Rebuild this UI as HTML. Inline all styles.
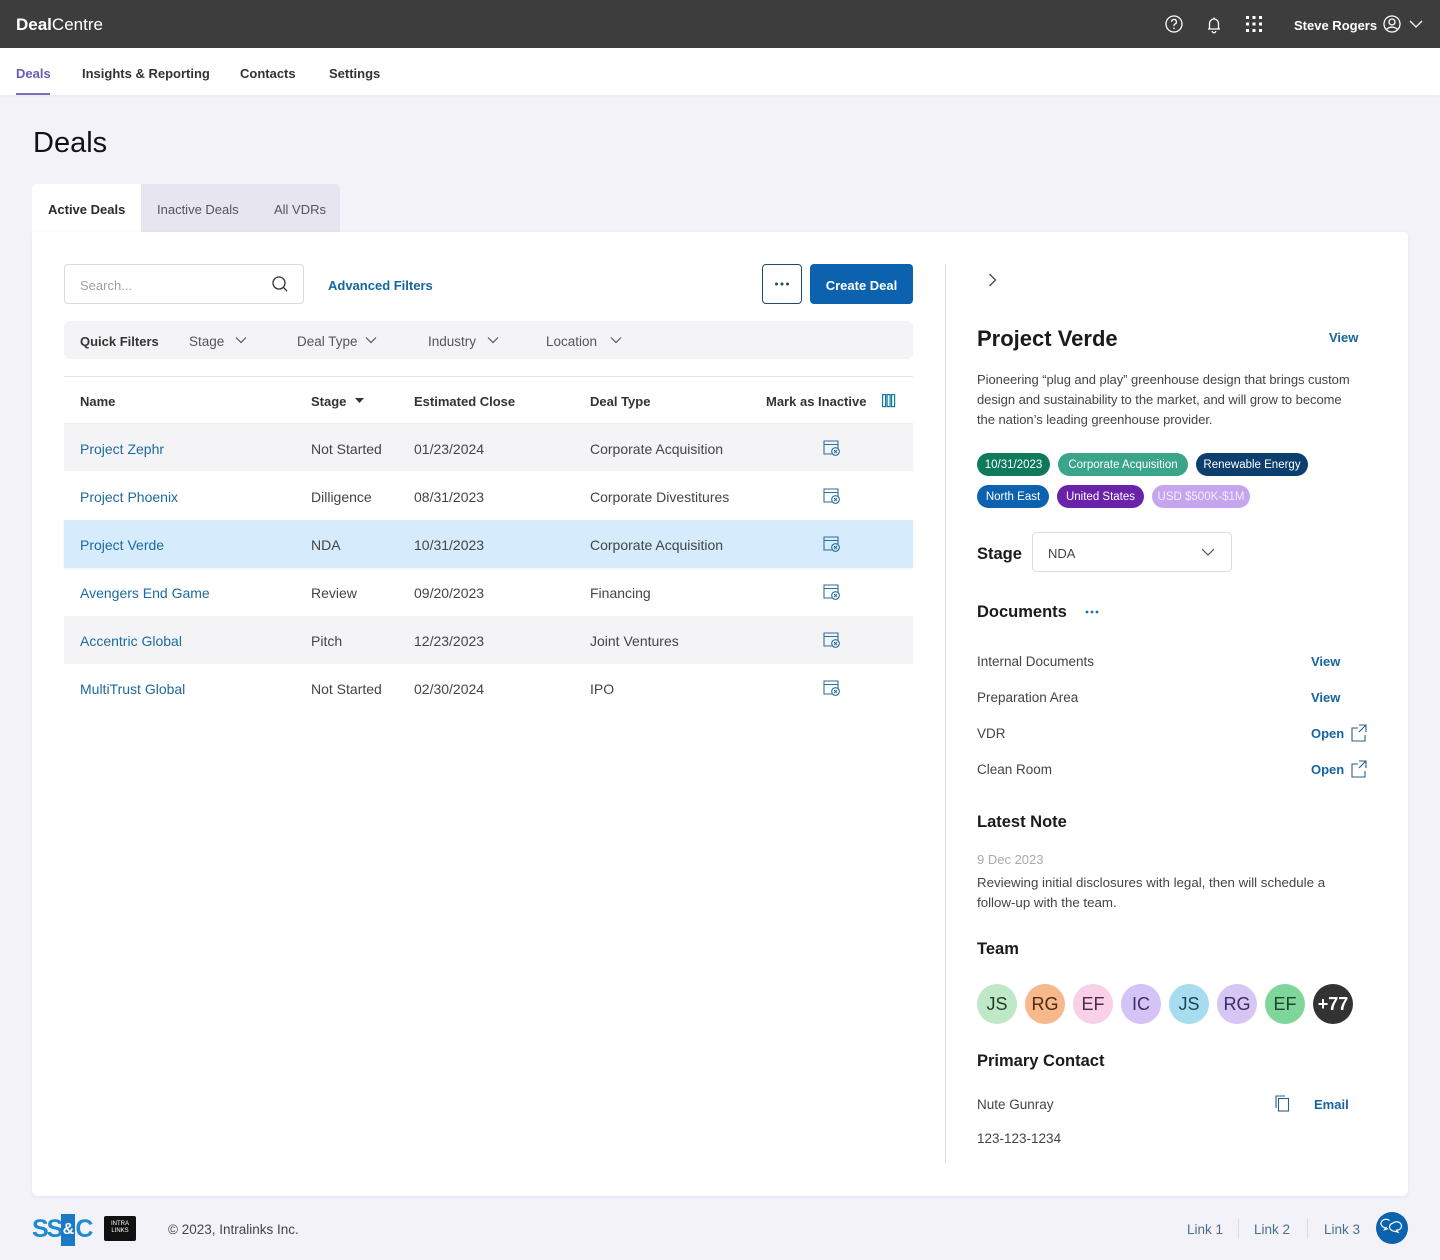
<!DOCTYPE html>
<html><head><meta charset="utf-8">
<style>
*{box-sizing:border-box;margin:0;padding:0}
body{width:1440px;height:1260px;background:#f3f2f9;position:relative;overflow:hidden;font-family:"Liberation Sans",sans-serif;color:#444}
.a{position:absolute}
.t{position:absolute;white-space:nowrap;transform:translateY(1px)}
.r{transform:none}
.hd{font-weight:bold;color:#333;font-size:13px;line-height:20px}
.cell{font-size:14px;line-height:20px;color:#444}
.nm{color:#1d6aa0}
.lnk{font-weight:bold;color:#15659e;font-size:13px;line-height:20px}
.h2{font-weight:bold;color:#1a1a1a;font-size:16.5px;line-height:22px}
.tag{position:absolute;height:23px;border-radius:12px;color:#fff;font-size:11.5px;line-height:25px;text-align:center;white-space:nowrap}
.av{position:absolute;top:984px;width:40px;height:40px;border-radius:50%;text-align:center;line-height:40px;font-size:18px}
</style></head><body>

<!-- top bar -->
<div class="a" style="left:0;top:0;width:1440px;height:48px;background:#3d3d3d"></div>
<div class="t" style="left:16px;top:14px;font-size:17px;line-height:20px;color:#fff"><b>Deal</b>Centre</div>
<div class="t" style="left:1294px;top:15px;font-size:13px;line-height:20px;color:#fff;font-weight:bold">Steve Rogers</div>

<!-- nav -->
<div class="a" style="left:0;top:48px;width:1440px;height:47px;background:#fff;box-shadow:0 1px 3px rgba(0,0,0,0.05)"></div>
<div class="t" style="left:16px;top:63px;font-size:13px;line-height:20px;font-weight:bold;color:#6a5db4">Deals</div>
<div class="a" style="left:16px;top:93px;width:34px;height:2px;background:#7b6fc2"></div>
<div class="t" style="left:82px;top:63px;font-size:13px;line-height:20px;font-weight:bold;color:#333">Insights &amp; Reporting</div>
<div class="t" style="left:240px;top:63px;font-size:13px;line-height:20px;font-weight:bold;color:#333">Contacts</div>
<div class="t" style="left:329px;top:63px;font-size:13px;line-height:20px;font-weight:bold;color:#333">Settings</div>

<!-- page title -->
<div class="t" style="left:33px;top:124px;font-size:29px;line-height:36px;color:#111">Deals</div>

<!-- tabs -->
<div class="a" style="left:141px;top:184px;width:199px;height:48px;background:#e7e5ef;border-top-right-radius:4px"></div>
<div class="a" style="left:32px;top:184px;width:109px;height:48px;background:#fff;border-top-left-radius:4px"></div>
<div class="t" style="left:48px;top:199px;font-size:13px;line-height:20px;font-weight:bold;color:#2a2a2a">Active Deals</div>
<div class="t" style="left:157px;top:199px;font-size:13px;line-height:20px;color:#555">Inactive Deals</div>
<div class="t" style="left:274px;top:199px;font-size:13px;line-height:20px;color:#555">All VDRs</div>

<!-- card -->
<div class="a" style="left:32px;top:232px;width:1376px;height:964px;background:#fff;border-radius:0 4px 6px 6px;box-shadow:0 1px 4px rgba(60,50,110,0.07)"></div>

<!-- search -->
<div class="a" style="left:64px;top:264px;width:240px;height:40px;border:1px solid #d9d9de;border-radius:4px;background:#fff"></div>
<div class="t" style="left:80px;top:275px;font-size:13px;line-height:20px;color:#a0a0a6">Search...</div>
<div class="t lnk" style="left:328px;top:275px">Advanced Filters</div>
<div class="a" style="left:762px;top:264px;width:40px;height:40px;border:1px solid #1e4d63;border-radius:4px"></div>
<div class="a" style="left:810px;top:264px;width:103px;height:40px;background:#0c62ae;border-radius:4px"></div>
<div class="t" style="left:810px;top:275px;width:103px;text-align:center;font-size:13px;line-height:20px;font-weight:bold;color:#fff">Create Deal</div>

<!-- quick filters -->
<div class="a" style="left:64px;top:321px;width:849px;height:38px;background:#f4f4f6;border-radius:6px"></div>
<div class="t" style="left:80px;top:331px;font-size:13px;line-height:20px;font-weight:bold;color:#333">Quick Filters</div>
<div class="t cell" style="left:189px;top:331px;font-size:13.5px;color:#555">Stage</div>
<div class="t cell" style="left:297px;top:331px;font-size:13.5px;color:#555">Deal Type</div>
<div class="t cell" style="left:428px;top:331px;font-size:13.5px;color:#555">Industry</div>
<div class="t cell" style="left:546px;top:331px;font-size:13.5px;color:#555">Location</div>

<div class="a" style="left:64px;top:376px;width:849px;height:1px;background:#e3e3e7"></div>

<!-- table header -->
<div class="t hd" style="left:80px;top:391px">Name</div>
<div class="t hd" style="left:311px;top:391px">Stage</div>
<div class="t hd" style="left:414px;top:391px">Estimated Close</div>
<div class="t hd" style="left:590px;top:391px">Deal Type</div>
<div class="t hd" style="left:766px;top:391px">Mark as Inactive</div>
<div class="a" style="left:64px;top:423px;width:849px;height:1px;background:#ececef"></div>

<!-- rows -->
<div class="a" style="left:64px;top:424px;width:849px;height:47px;background:#f4f4f6"></div>
<div class="a" style="left:64px;top:520px;width:849px;height:48px;background:#d6ebfb;box-shadow:0 1px 2px rgba(0,0,0,0.06)"></div>
<div class="a" style="left:64px;top:616px;width:849px;height:48px;background:#f4f4f6"></div>

<div class="t r cell nm" style="left:80px;top:439px">Project Zephr</div>
<div class="t r cell" style="left:311px;top:439px">Not Started</div>
<div class="t r cell" style="left:414px;top:439px">01/23/2024</div>
<div class="t r cell" style="left:590px;top:439px">Corporate Acquisition</div>

<div class="t r cell nm" style="left:80px;top:487px">Project Phoenix</div>
<div class="t r cell" style="left:311px;top:487px">Dilligence</div>
<div class="t r cell" style="left:414px;top:487px">08/31/2023</div>
<div class="t r cell" style="left:590px;top:487px">Corporate Divestitures</div>

<div class="t r cell nm" style="left:80px;top:535px">Project Verde</div>
<div class="t r cell" style="left:311px;top:535px">NDA</div>
<div class="t r cell" style="left:414px;top:535px">10/31/2023</div>
<div class="t r cell" style="left:590px;top:535px">Corporate Acquisition</div>

<div class="t r cell nm" style="left:80px;top:583px">Avengers End Game</div>
<div class="t r cell" style="left:311px;top:583px">Review</div>
<div class="t r cell" style="left:414px;top:583px">09/20/2023</div>
<div class="t r cell" style="left:590px;top:583px">Financing</div>

<div class="t r cell nm" style="left:80px;top:631px">Accentric Global</div>
<div class="t r cell" style="left:311px;top:631px">Pitch</div>
<div class="t r cell" style="left:414px;top:631px">12/23/2023</div>
<div class="t r cell" style="left:590px;top:631px">Joint Ventures</div>

<div class="t r cell nm" style="left:80px;top:679px">MultiTrust Global</div>
<div class="t r cell" style="left:311px;top:679px">Not Started</div>
<div class="t r cell" style="left:414px;top:679px">02/30/2024</div>
<div class="t r cell" style="left:590px;top:679px">IPO</div>

<!-- divider -->
<div class="a" style="left:945px;top:264px;width:1px;height:899px;background:#dcdce0"></div>

<!-- right panel -->
<div class="t" style="left:977px;top:325px;font-size:22px;line-height:26px;font-weight:bold;color:#1a1a1a">Project Verde</div>
<div class="t lnk" style="left:1329px;top:327px">View</div>
<div class="t" style="left:977px;top:369px;font-size:13px;line-height:20px;color:#444;letter-spacing:-0.05px">Pioneering “plug and play” greenhouse design that brings custom<br>design and sustainability to the market, and will grow to become<br>the nation’s leading greenhouse provider.</div>

<div class="tag" style="left:977px;top:453px;width:73px;background:#0e7a5b">10/31/2023</div>
<div class="tag" style="left:1058px;top:453px;width:130px;background:#3ba58a">Corporate Acquisition</div>
<div class="tag" style="left:1196px;top:453px;width:112px;background:#0c3f6e">Renewable Energy</div>
<div class="tag" style="left:977px;top:485px;width:72px;background:#0c62ae">North East</div>
<div class="tag" style="left:1057px;top:485px;width:87px;background:#6a22a8">United States</div>
<div class="tag" style="left:1152px;top:485px;width:98px;background:#c6a5ef;color:#f4edff">USD $500K-$1M</div>

<div class="t h2" style="left:977px;top:542px">Stage</div>
<div class="a" style="left:1032px;top:532px;width:200px;height:40px;border:1px solid #dcdce0;border-radius:4px"></div>
<div class="t" style="left:1048px;top:543px;font-size:13px;line-height:20px;color:#444">NDA</div>

<div class="t h2" style="left:977px;top:600px">Documents</div>
<div class="t cell" style="left:977px;top:651px;font-size:13.5px">Internal Documents</div>
<div class="t lnk" style="left:1311px;top:651px">View</div>
<div class="t cell" style="left:977px;top:687px;font-size:13.5px">Preparation Area</div>
<div class="t lnk" style="left:1311px;top:687px">View</div>
<div class="t cell" style="left:977px;top:723px;font-size:13.5px">VDR</div>
<div class="t lnk" style="left:1311px;top:723px">Open</div>
<div class="t cell" style="left:977px;top:759px;font-size:13.5px">Clean Room</div>
<div class="t lnk" style="left:1311px;top:759px">Open</div>

<div class="t h2" style="left:977px;top:810px">Latest Note</div>
<div class="t" style="left:977px;top:849px;font-size:13px;line-height:20px;color:#aaa">9 Dec 2023</div>
<div class="t" style="left:977px;top:872px;font-size:13.3px;line-height:20px;color:#444">Reviewing initial disclosures with legal, then will schedule a<br>follow-up with the team.</div>

<div class="t h2" style="left:977px;top:937px">Team</div>
<div class="av" style="left:977px;background:#bfe8c6;color:#213d2a">JS</div>
<div class="av" style="left:1025px;background:#f6b88c;color:#4e2a10">RG</div>
<div class="av" style="left:1073px;background:#f8d0e7;color:#4d2a45">EF</div>
<div class="av" style="left:1121px;background:#d4c4f6;color:#3a2a68">IC</div>
<div class="av" style="left:1169px;background:#a8ddf0;color:#1b455a">JS</div>
<div class="av" style="left:1217px;background:#d6c6f4;color:#3a2a68">RG</div>
<div class="av" style="left:1265px;background:#7fd69b;color:#1e4528">EF</div>
<div class="av" style="left:1313px;background:#333;color:#fff;font-weight:bold">+77</div>

<div class="t h2" style="left:977px;top:1049px">Primary Contact</div>
<div class="t cell" style="left:977px;top:1094px;font-size:13.5px">Nute Gunray</div>
<div class="t lnk" style="left:1314px;top:1094px">Email</div>
<div class="t cell" style="left:977px;top:1128px;font-size:13.5px">123-123-1234</div>

<!-- footer -->
<div class="t" style="left:32px;top:1213px;font-size:25px;line-height:30px;font-weight:bold;color:#1e8bd0;letter-spacing:-2px">SS<span style="display:inline-block;background:#1c78c4;color:#fff;font-size:16px;line-height:32px;width:14px;text-align:center;letter-spacing:0;vertical-align:top">&amp;</span>C</div>
<div class="a" style="left:104px;top:1216px;width:32px;height:25px;background:#111;border-radius:2px;color:#fff;font-size:6px;line-height:7px;text-align:center;padding-top:5px">INTRA<br>LINKS</div>
<div class="t" style="left:168px;top:1219px;font-size:13.5px;line-height:20px;color:#444">© 2023, Intralinks Inc.</div>
<div class="t" style="left:1187px;top:1219px;font-size:13.5px;line-height:20px;color:#4a6e8e">Link 1</div>
<div class="a" style="left:1238px;top:1219px;width:1px;height:20px;background:#dcdce2"></div>
<div class="t" style="left:1254px;top:1219px;font-size:13.5px;line-height:20px;color:#4a6e8e">Link 2</div>
<div class="a" style="left:1307px;top:1219px;width:1px;height:20px;background:#dcdce2"></div>
<div class="t" style="left:1324px;top:1219px;font-size:13.5px;line-height:20px;color:#4a6e8e">Link 3</div>
<div class="a" style="left:1376px;top:1212px;width:32px;height:32px;border-radius:50%;background:#0b62ad"></div>

<!-- icons -->
<svg class="a" style="left:0;top:0" width="1440" height="1260" viewBox="0 0 1440 1260" fill="none">
  <circle cx="1174" cy="24" r="8" stroke="#fff" stroke-width="1.3"/>
  <path d="M1171.6 21.8a2.4 2.4 0 1 1 3.4 2.2c-.7.3-1 .8-1 1.5v.6" stroke="#fff" stroke-width="1.3"/>
  <circle cx="1174" cy="28.3" r=".8" fill="#fff"/>
  <path d="M1208 29h12M1209.5 29v-5.5a4.5 4.5 0 0 1 9 0V29M1214 17.5v1.5M1212.2 31a1.8 1.8 0 0 0 3.6 0" stroke="#fff" stroke-width="1.3"/>
  <g fill="#fff">
    <rect x="1246" y="16" width="3" height="3"/><rect x="1252.5" y="16" width="3" height="3"/><rect x="1259" y="16" width="3" height="3"/>
    <rect x="1246" y="22.5" width="3" height="3"/><rect x="1252.5" y="22.5" width="3" height="3"/><rect x="1259" y="22.5" width="3" height="3"/>
    <rect x="1246" y="29" width="3" height="3"/><rect x="1252.5" y="29" width="3" height="3"/><rect x="1259" y="29" width="3" height="3"/>
  </g>
  <circle cx="1392" cy="24" r="8" stroke="#fff" stroke-width="1.3"/>
  <circle cx="1392" cy="22" r="3" stroke="#fff" stroke-width="1.3"/>
  <path d="M1386.5 29.5a6.5 5 0 0 1 11 0" stroke="#fff" stroke-width="1.3"/>
  <polyline points="1410,21 1416,27 1422,21" stroke="#fff" stroke-width="1.3"/>
  <circle cx="279" cy="283" r="6" stroke="#333" stroke-width="1.3"/>
  <line x1="283.3" y1="287.3" x2="287" y2="291" stroke="#333" stroke-width="1.3"/>
  <g fill="#1e4d63"><circle cx="776.5" cy="284" r="1.5"/><circle cx="782" cy="284" r="1.5"/><circle cx="787.5" cy="284" r="1.5"/></g>
  <g stroke="#555" stroke-width="1.2">
    <polyline points="236,337.5 241,342.5 246,337.5"/>
    <polyline points="366,337.5 371,342.5 376,337.5"/>
    <polyline points="488,337.5 493,342.5 498,337.5"/>
    <polyline points="611,337.5 616,342.5 621,337.5"/>
  </g>
  <polygon points="355,398 364,398 359.5,403" fill="#333"/>
  <g stroke="#0f7d9a" stroke-width="1.2">
    <rect x="882.6" y="394.6" width="3" height="12"/><rect x="887.1" y="394.6" width="3" height="12"/><rect x="891.6" y="394.6" width="3" height="12"/>
  </g>
  <g stroke="#2b6f9e" stroke-width="1.1">
    <g transform="translate(0,448)"><path d="M833 6H824V-7h14v7M824-3.5h14"/><circle cx="835.5" cy="3.5" r="3.8" fill="#f4f4f6"/><path d="M834 2l3 3M837 2l-3 3"/></g>
    <g transform="translate(0,496)"><path d="M833 6H824V-7h14v7M824-3.5h14"/><circle cx="835.5" cy="3.5" r="3.8" fill="#fff"/><path d="M834 2l3 3M837 2l-3 3"/></g>
    <g transform="translate(0,544)"><path d="M833 6H824V-7h14v7M824-3.5h14"/><circle cx="835.5" cy="3.5" r="3.8" fill="#d6ebfb"/><path d="M834 2l3 3M837 2l-3 3"/></g>
    <g transform="translate(0,592)"><path d="M833 6H824V-7h14v7M824-3.5h14"/><circle cx="835.5" cy="3.5" r="3.8" fill="#fff"/><path d="M834 2l3 3M837 2l-3 3"/></g>
    <g transform="translate(0,640)"><path d="M833 6H824V-7h14v7M824-3.5h14"/><circle cx="835.5" cy="3.5" r="3.8" fill="#f4f4f6"/><path d="M834 2l3 3M837 2l-3 3"/></g>
    <g transform="translate(0,688)"><path d="M833 6H824V-7h14v7M824-3.5h14"/><circle cx="835.5" cy="3.5" r="3.8" fill="#fff"/><path d="M834 2l3 3M837 2l-3 3"/></g>
  </g>
  <polyline points="989.5,274 995.5,280 989.5,286" stroke="#444" stroke-width="1.3"/>
  <polyline points="1202,549 1208,555 1214,549" stroke="#555" stroke-width="1.2"/>
  <g fill="#1a6aa5"><circle cx="1087" cy="612" r="1.4"/><circle cx="1092" cy="612" r="1.4"/><circle cx="1097" cy="612" r="1.4"/></g>
  <g stroke="#2b5f85" stroke-width="1.1">
    <path d="M1358 728h-6v13h13v-6M1359 725h7v7M1366 725l-7 7"/>
    <path d="M1358 764h-6v13h13v-6M1359 761h7v7M1366 761l-7 7"/>
  </g>
  <g stroke="#2b5f85" stroke-width="1.1">
    <path d="M1276 1108v-12h9"/>
    <rect x="1278.5" y="1098.5" width="10" height="12.5"/>
  </g>
  <g stroke="#fff" stroke-width="1.2">
    <path d="M1389.5 1220.5a5 4.2 0 1 0-3.5 7.2l-1.5 2 3.5-1"/>
    <path d="M1393 1223a5 4.2 0 1 1 3.5 7.2l1.5 2-3.5-1a5 4.2 0 0 1-1.5-8.2z"/>
  </g>
</svg>
</body></html>
